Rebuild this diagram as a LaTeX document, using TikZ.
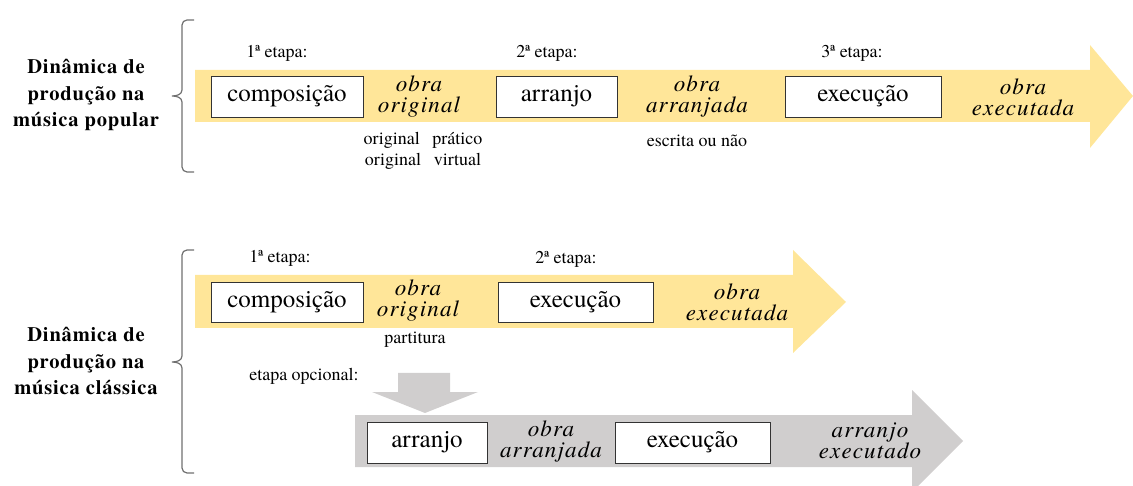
\documentclass[tikz,border=0pt]{standalone}
\usepackage{fontspec}
\IfFontExistsTF{texgyretermes-regular.otf}{%
  \setmainfont{texgyretermes}[Extension=.otf,UprightFont=*-regular,BoldFont=*-bold,ItalicFont=*-italic,BoldItalicFont=*-bolditalic]
  \newfontfamily\labfont{texgyretermes}[Extension=.otf,UprightFont=*-regular,BoldFont=*-bold,LetterSpace=4]
  \newfontfamily\workfont{texgyretermes}[Extension=.otf,UprightFont=*-italic,LetterSpace=5]
}{%
  \setmainfont{Liberation Serif}
  \newfontfamily\labfont{Liberation Serif}[LetterSpace=4]
  \newfontfamily\workfont{Liberation Serif Italic}[LetterSpace=5]
}
\definecolor{ylw}{HTML}{FFE699}
\definecolor{gry}{HTML}{D0CECE}
\definecolor{brc}{HTML}{707070}
\begin{document}
\begin{tikzpicture}[x=1pt,y=-1pt,
  stagebox/.style={draw=black!80,line width=0.8pt,fill=white,inner sep=0pt,
    minimum height=41pt,font=\fontsize{25}{26}\selectfont},
  worktxt/.style={align=center,font=\workfont\fontsize{23}{21}\selectfont,inner sep=0pt},
  etapa/.style={font=\fontsize{18}{19}\selectfont,inner sep=0pt},
  note/.style={font=\fontsize{18}{21}\selectfont,inner sep=0pt,align=center},
  sidelab/.style={align=center,font=\labfont\bfseries\fontsize{20.5}{26.5}\selectfont,inner sep=0pt},
  bracepath/.style={draw=brc,line width=1.2pt}]
\useasboundingbox (0,0) rectangle (1133,486);

% arrows
\fill[ylw] (195,70) -- (1090,70) -- (1090,45) -- (1133,96) -- (1090,148) -- (1090,122) -- (195,122) -- cycle;
\fill[ylw] (195,275) -- (793,275) -- (793,250) -- (846,302) -- (793,353) -- (793,328) -- (195,328) -- cycle;
\fill[gry] (355,415) -- (912,415) -- (912,390) -- (963,441) -- (912,492) -- (912,467) -- (355,467) -- cycle;
\fill[gry] (398,373) -- (450,373) -- (450,392) -- (478,392) -- (425,413) -- (372,392) -- (398,392) -- cycle;

% braces
\draw[bracepath] (194,20) -- (187,20) to[out=180,in=90] (182,25) -- (182,90)
  to[out=-90,in=0] (172,96) to[out=0,in=90] (182,102) -- (182,167) to[out=-90,in=180] (187,172) -- (194,172);
\draw[bracepath] (194,250) -- (187,250) to[out=180,in=90] (182,255) -- (182,356)
  to[out=-90,in=0] (172,362) to[out=0,in=90] (182,368) -- (182,468) to[out=-90,in=180] (187,473) -- (194,473);

% side labels
\node[sidelab] (lpop) at (86,95) {Dinâmica de\\produção na\\música popular};
\node[sidelab] (lcla) at (86,361) {Dinâmica de\\produção na\\música clássica};

% top row
\node[etapa] (e1a) at (277,53) {1ª etapa:};
\node[etapa] (e2a) at (547,53) {2ª etapa:};
\node[etapa] (e3a) at (852,53) {3ª etapa:};
\node[stagebox,minimum width=152pt] (compA) at (287,96.5) {composição};
\node[worktxt] (origA) at (419,97) {obra\\original};
\node[stagebox,minimum width=121pt] (arrA) at (556.5,96.5) {arranjo};
\node[worktxt] (arrjA) at (697,97) {obra\\arranjada};
\node[stagebox,minimum width=156pt] (execA) at (863,96.5) {execução};
\node[worktxt] (exA) at (1023,97) {obra\\executada};
\node[note] (noteA) at (423,151) {original\hspace{0.7em}prático\\original\hspace{0.7em}virtual};
\node[note] (noteB) at (697,141) {escrita ou não};

% bottom yellow row
\node[etapa] (e1b) at (280,258) {1ª etapa:};
\node[etapa] (e2b) at (566,259) {2ª etapa:};
\node[stagebox,minimum width=152pt,minimum height=40pt] (compB) at (287,302) {composição};
\node[worktxt] (origB) at (418,301) {obra\\original};
\node[stagebox,minimum width=155pt,minimum height=40pt] (execB) at (575.5,302) {execução};
\node[worktxt] (exB) at (737,302) {obra\\executada};
\node[note] (part) at (415,340) {partitura};
\node[note] (opc) at (304,376) {etapa opcional:};

% gray row
\node[stagebox,minimum width=120pt] (arrC) at (427,442.5) {arranjo};
\node[worktxt] (arrjC) at (551,442) {obra\\arranjada};
\node[stagebox,minimum width=155pt] (execC) at (692.5,442.5) {execução};
\node[worktxt] (exC) at (870,441) {arranjo\\executado};
\end{tikzpicture}
\end{document}
